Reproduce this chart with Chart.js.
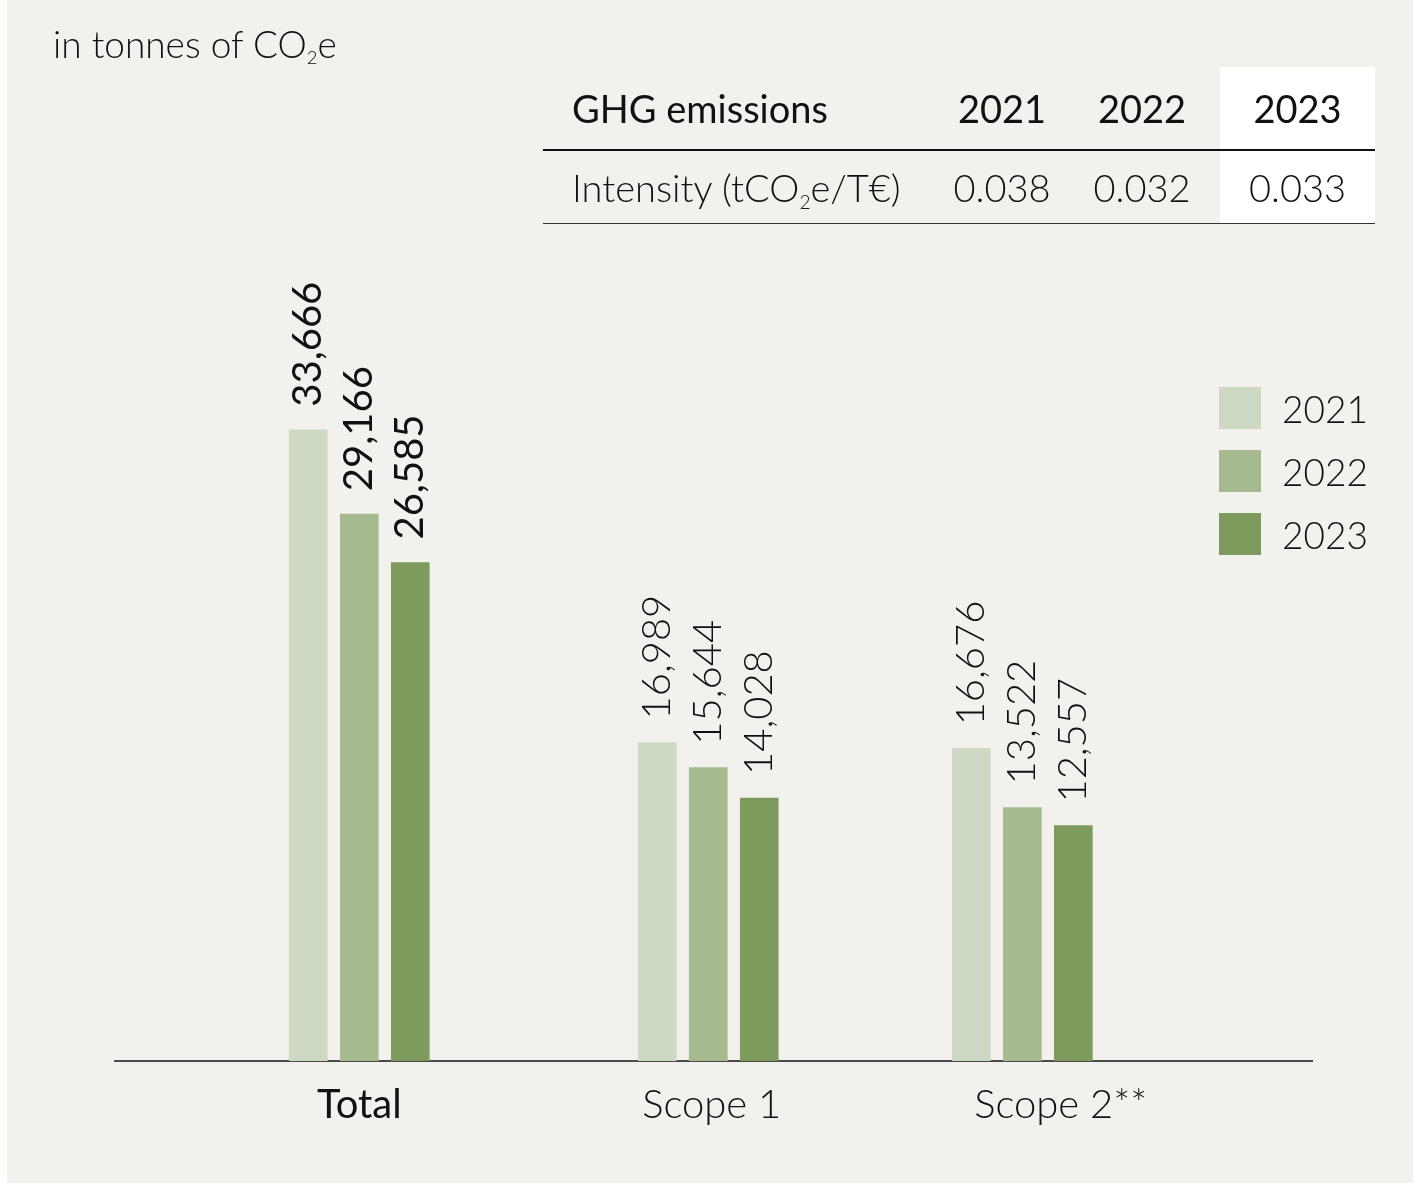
<!DOCTYPE html>
<html>
<head>
<meta charset="utf-8">
<script src="https://cdn.jsdelivr.net/npm/chart.js@4/dist/chart.umd.min.js"></script>
<style>
  html, body { margin: 0; padding: 0; background: #ffffff; }
  body { width: 1413px; height: 1183px; position: relative; overflow: hidden; font-family: "Lato", "Noto Sans", sans-serif; color: #111; }
  #bg { position: absolute; left: 7px; top: 0; width: 1406px; height: 1183px; background: #f2f1ed; }
  #chart { position: absolute; left: 0; top: 0; }
  #unit { position: absolute; left: 53px; top: 22px; font-size: 37px; font-weight: 300; line-height: 44px; white-space: nowrap; }
  sub { font-size: 0.5em; vertical-align: -0.35em; line-height: 0; }
  #tbl { position: absolute; left: 543px; top: 67px; width: 832px; }
  .row { display: flex; height: 84px; align-items: center; }
  .row.r2 { height: 73px; }
  .cell { height: 100%; display: flex; align-items: center; justify-content: center; font-size: 38px; white-space: nowrap; box-sizing: border-box; }
  .c0 { width: 389px; justify-content: flex-start; padding-left: 29px; }
  .c1 { width: 140px; }
  .c2 { width: 148px; padding-right: 8px; }
  .c3 { width: 155px; background: #ffffff; }
  .hdr .cell { font-weight: 400; border-bottom: 2.5px solid #111; }
  .r2 .cell { font-weight: 300; border-bottom: 1px solid #333; }
  #legend { position: absolute; left: 1219px; top: 387px; }
  .li { display: flex; align-items: center; height: 42px; margin-bottom: 21px; }
  .sw { width: 42px; height: 42px; margin-right: 21px; }
  .lt { font-size: 37px; font-weight: 300; }
</style>
</head>
<body>
<div id="bg"></div>
<canvas id="chart" width="1413" height="1183"></canvas>
<div id="unit">in tonnes of CO<sub>2</sub>e</div>
<div id="tbl"></div>
<div id="legend"></div>
<script>
// ---- data ----
const categories = ["Total", "Scope 1", "Scope 2**"];
const years = ["2021", "2022", "2023"];
const values2021 = [33666, 16989, 16676];
const values2022 = [29166, 15644, 13522];
const values2023 = [26585, 14028, 12557];
const intensityTitle = "GHG emissions";
const intensityLabel = "Intensity (tCO<sub>2</sub>e/T€)";
const intensityValues = ["0.038", "0.032", "0.033"];

// ---- layout / style ----
const groupSlots = [7, 17, 26];        // relative group positions on the x scale
const labelSlots = [7, 17.1, 27.1];    // where the category names sit
const slotMax = 34.3;
const colors = ["#cdd9c2", "#a5bb8f", "#7c9b5c"];
const FONT = '"Lato", "Noto Sans", sans-serif';

// table
const tbl = document.getElementById('tbl');
tbl.innerHTML =
  '<div class="row hdr"><div class="cell c0"><span>' + intensityTitle + '</span></div>' +
  years.map((y, i) => '<div class="cell c' + (i + 1) + '"><span>' + y + '</span></div>').join('') + '</div>' +
  '<div class="row r2"><div class="cell c0"><span>' + intensityLabel + '</span></div>' +
  intensityValues.map((v, i) => '<div class="cell c' + (i + 1) + '"><span>' + v + '</span></div>').join('') + '</div>';

const seriesValues = [values2021, values2022, values2023];

const valueLabels = {
  id: 'valueLabels',
  afterDatasetsDraw(chart) {
    const ctx = chart.ctx;
    chart.data.datasets.forEach((ds, di) => {
      const meta = chart.getDatasetMeta(di);
      meta.data.forEach((el, i) => {
        const v = ds.data[i].y;
        ctx.save();
        ctx.translate(el.x, el.y - 23);
        ctx.rotate(-Math.PI / 2);
        ctx.textAlign = 'left';
        ctx.textBaseline = 'middle';
        ctx.fillStyle = '#111';
        ctx.font = (i === 0 ? '400 ' : '300 ') + '40px ' + FONT;
        ctx.fillText(v.toLocaleString('en-US'), 0, 0);
        ctx.restore();
      });
    });
  }
};

const chart = new Chart(document.getElementById('chart'), {
  type: 'bar',
  data: {
    datasets: years.map((y, di) => ({
      label: y,
      data: groupSlots.map((s, i) => ({ x: s, y: seriesValues[di][i] })),
      backgroundColor: colors[di],
      borderWidth: 0,
      barThickness: 51,
      maxBarThickness: 38
    }))
  },
  options: {
    responsive: false,
    animation: false,
    devicePixelRatio: 1,
    layout: { padding: { left: 115, right: 101, top: 311, bottom: 34 } },
    plugins: { legend: { display: false }, tooltip: { enabled: false } },
    scales: {
      x: {
        type: 'linear',
        min: 0,
        max: slotMax,
        offset: false,
        grid: { display: false, drawTicks: false },
        border: { display: true, color: '#4a4a4a', width: 2 },
        afterBuildTicks: (scale) => { scale.ticks = labelSlots.map(v => ({ value: v })); },
        ticks: {
          autoSkip: false,
          maxRotation: 0,
          padding: 20,
          color: '#111',
          font: (c) => ({ family: FONT, size: 40, weight: c.index === 0 ? '400' : '300' }),
          callback: (v, i) => categories[i]
        }
      },
      y: {
        min: 0,
        max: 40000,
        display: false
      }
    }
  },
  plugins: [valueLabels]
});

// legend from datasets
document.getElementById('legend').innerHTML = chart.data.datasets.map(ds =>
  '<div class="li"><div class="sw" style="background:' + ds.backgroundColor + '"></div><div class="lt">' + ds.label + '</div></div>'
).join('');
</script>
</body>
</html>
